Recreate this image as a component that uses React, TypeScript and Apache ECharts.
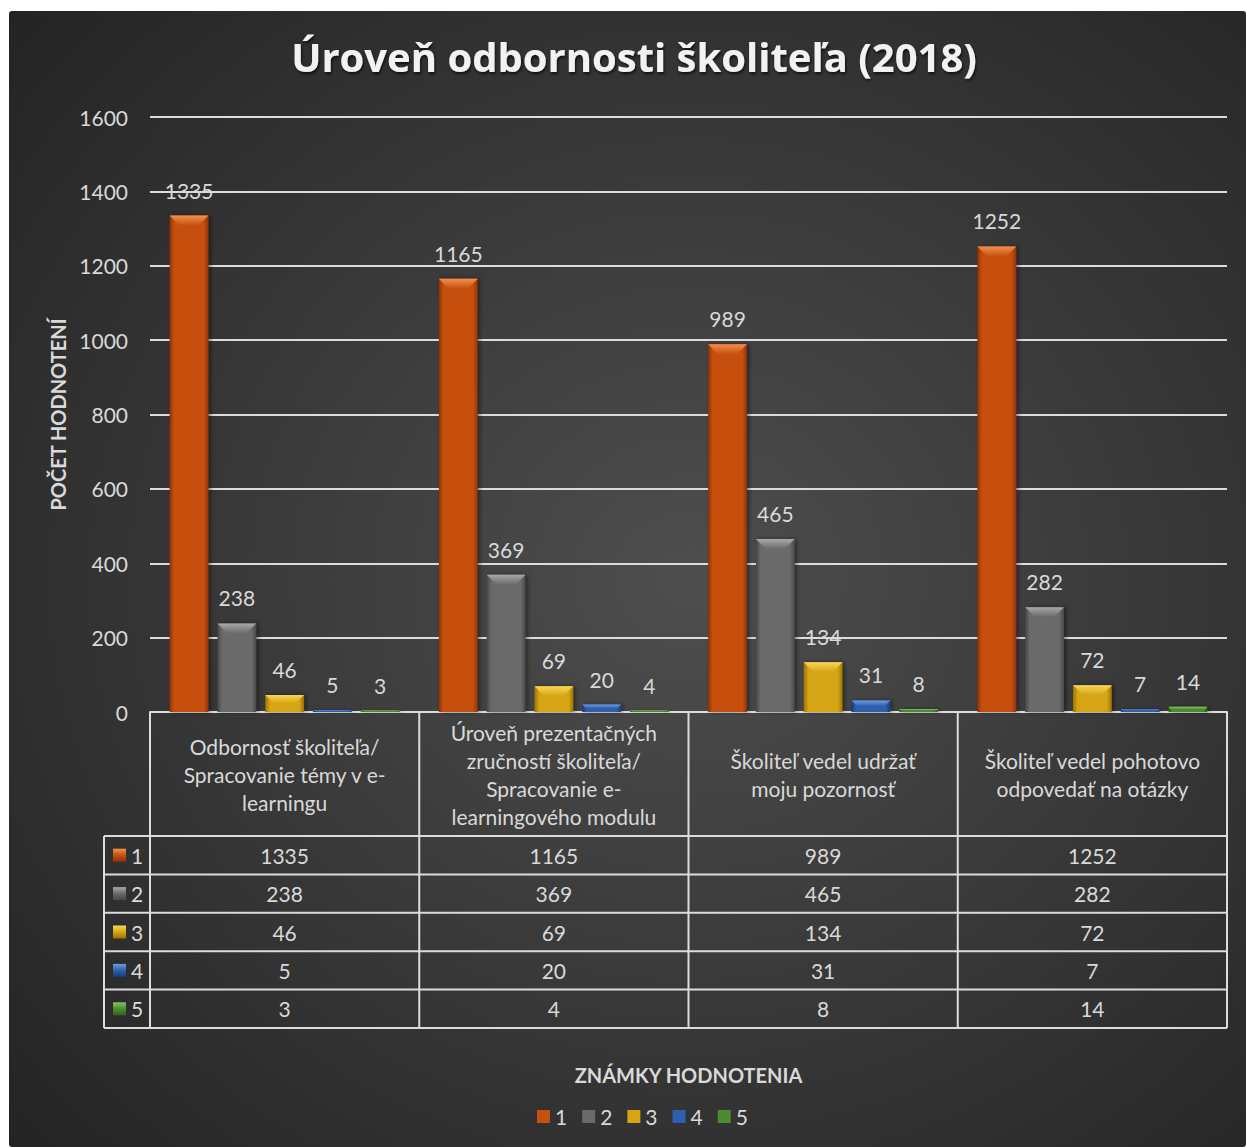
import React, { useEffect, useRef } from "react";
import * as echarts from "echarts";

const CATEGORIES = [
  "Odbornosť školiteľa/\nSpracovanie témy v e-\nlearningu",
  "Úroveň prezentačných\nzručností školiteľa/\nSpracovanie e-\nlearningového modulu",
  "Školiteľ vedel udržať\nmoju pozornosť",
  "Školiteľ vedel pohotovo\nodpovedať na otázky",
];
const GRADES = ["1", "2", "3", "4", "5"];
const GRADE_1 = [1335, 1165, 989, 1252];
const GRADE_2 = [238, 369, 465, 282];
const GRADE_3 = [46, 69, 134, 72];
const GRADE_4 = [5, 20, 31, 7];
const GRADE_5 = [3, 4, 8, 14];
const SERIES_VALUES = [GRADE_1, GRADE_2, GRADE_3, GRADE_4, GRADE_5];
const Y_MAX = 1600;
const Y_INTERVAL = 200;

const TITLE = "Úroveň odbornosti školiteľa (2018)";
const Y_NAME = "POČET HODNOTENÍ";
const X_NAME = "ZNÁMKY HODNOTENIA";

const PALETTE = [
  { base: "#c65010", light: "#f3904c", dark: "#8e3205" },
  { base: "#6a6a6a", light: "#a8a8a8", dark: "#474747" },
  { base: "#d5a512", light: "#f7d65a", dark: "#987206" },
  { base: "#2f5fae", light: "#6f9ae0", dark: "#1b3b78" },
  { base: "#4b8c31", light: "#88c466", dark: "#2d6217" },
];

const W = 1246;
const H = 1147;
const GRID_LEFT = 150;
const GRID_RIGHT_X = 1227;
const GRID_TOP = 117;
const GRID_BOTTOM_Y = 712;
const TABLE_LEFT = 104;
const HEADER_BOTTOM = 836;
const ROW_H = 38.4;
const CAT_GAP = 0.146;
const BAR_GAP = 0.23;
const FONT = "Lato, 'Noto Sans', sans-serif";
const TEXT = "#d9d9d9";

export default function App() {
  const ref = useRef<HTMLDivElement>(null);

  useEffect(() => {
    if (!ref.current) return;
    const chart = echarts.init(ref.current, null, { renderer: "svg" });
    const n = SERIES_VALUES.length;
    const colW = (GRID_RIGHT_X - GRID_LEFT) / CATEGORIES.length;

    const series = SERIES_VALUES.map((vals, si) => ({
      type: "custom",
      name: GRADES[si],
      coordinateSystem: "cartesian2d",
      encode: { x: 0, y: 1 },
      itemStyle: { color: PALETTE[si].base },
      data: vals.map((v, ci) => [ci, v]),
      renderItem: (params: any, api: any) => {
        const ci = api.value(0);
        const v = api.value(1);
        const base = api.coord([ci, 0]);
        const top = api.coord([ci, v]);
        const band = api.size([1, 0])[0];
        const usable = band * (1 - CAT_GAP);
        const bw = usable / (n + (n - 1) * BAR_GAP);
        const x0 = base[0] - usable / 2 + si * bw * (1 + BAR_GAP);
        const h = Math.max(base[1] - top[1], 1.5);
        const y0 = base[1] - h;
        const b = Math.min(10, h * 0.5);
        const c = PALETTE[si];
        return {
          type: "group",
          children: [
            {
              type: "rect",
              shape: { x: x0, y: y0, width: bw, height: h },
              style: {
                fill: new echarts.graphic.LinearGradient(0, 0, 1, 0, [
                  { offset: 0, color: c.dark },
                  { offset: 0.12, color: c.base },
                  { offset: 0.88, color: c.base },
                  { offset: 1, color: c.dark },
                ]),
                shadowColor: "rgba(0,0,0,0.45)",
                shadowBlur: 4,
                shadowOffsetX: 2,
              },
            },
            {
              type: "polygon",
              shape: {
                points: [
                  [x0, y0],
                  [x0 + bw, y0],
                  [x0 + bw - b, y0 + b],
                  [x0 + b, y0 + b],
                ],
              },
              style: {
                fill: new echarts.graphic.LinearGradient(0, 0, 0, 1, [
                  { offset: 0, color: c.light },
                  { offset: 1, color: c.base },
                ]),
              },
            },
            {
              type: "text",
              style: {
                x: x0 + bw / 2,
                y: y0 - 15,
                text: String(v),
                align: "center",
                verticalAlign: "bottom",
                fill: TEXT,
                fontSize: 21,
                fontFamily: FONT,
              },
            },
          ],
        };
      },
    }));

    const graphics: any[] = [
      {
        type: "rect",
        z: -10,
        silent: true,
        shape: { x: 9, y: 11, width: W - 9, height: H - 11, r: 3 },
        style: {
          fill: new echarts.graphic.RadialGradient(0.55, 0.5, 0.75, [
            { offset: 0, color: "#4e4e4e" },
            { offset: 1, color: "#232323" },
          ]),
        },
      },
    ];
    const lineStyle = { stroke: "#dcdcdc", lineWidth: 2 };
    const tableBottom = HEADER_BOTTOM + ROW_H * GRADES.length;
    for (let k = 0; k <= GRADES.length; k++) {
      const y = HEADER_BOTTOM + k * ROW_H;
      graphics.push({
        type: "line",
        shape: { x1: TABLE_LEFT, y1: y, x2: GRID_RIGHT_X, y2: y },
        style: lineStyle,
      });
    }
    graphics.push({
      type: "line",
      shape: { x1: TABLE_LEFT, y1: HEADER_BOTTOM, x2: TABLE_LEFT, y2: tableBottom },
      style: lineStyle,
    });
    for (let k = 0; k <= CATEGORIES.length; k++) {
      const x = GRID_LEFT + k * colW;
      graphics.push({
        type: "line",
        shape: { x1: x, y1: GRID_BOTTOM_Y, x2: x, y2: tableBottom },
        style: lineStyle,
      });
    }
    SERIES_VALUES.forEach((vals, si) => {
      const cy = HEADER_BOTTOM + (si + 0.5) * ROW_H;
      const c = PALETTE[si];
      graphics.push({
        type: "rect",
        shape: { x: 113, y: cy - 6.5, width: 13, height: 13 },
        style: {
          fill: new echarts.graphic.LinearGradient(0, 0, 0, 1, [
            { offset: 0, color: c.light },
            { offset: 0.5, color: c.base },
            { offset: 1, color: c.dark },
          ]),
        },
      });
      graphics.push({
        type: "text",
        style: {
          x: 131,
          y: cy,
          text: GRADES[si],
          align: "left",
          verticalAlign: "middle",
          fill: TEXT,
          fontSize: 21,
          fontFamily: FONT,
        },
      });
      vals.forEach((v, ci) => {
        graphics.push({
          type: "text",
          style: {
            x: GRID_LEFT + (ci + 0.5) * colW,
            y: cy,
            text: String(v),
            align: "center",
            verticalAlign: "middle",
            fill: TEXT,
            fontSize: 21,
            fontFamily: FONT,
          },
        });
      });
    });

    chart.setOption({
      animation: false,
      color: PALETTE.map((p) => p.base),
      title: {
        text: TITLE,
        left: 634,
        top: 36,
        padding: 0,
        textAlign: "center",
        textStyle: {
          color: "#f2f2f2",
          fontSize: 40,
          fontWeight: "bold",
          fontFamily: "'Open Sans', Lato, sans-serif",
          textShadowColor: "rgba(0,0,0,0.7)",
          textShadowBlur: 3,
          textShadowOffsetX: 1,
          textShadowOffsetY: 2,
        },
      },
      legend: {
        data: GRADES,
        left: 532,
        top: 1101,
        icon: "rect",
        itemWidth: 13,
        itemHeight: 13,
        itemGap: 15,
        textStyle: { color: TEXT, fontSize: 21, fontFamily: FONT },
      },
      grid: {
        left: GRID_LEFT,
        right: W - GRID_RIGHT_X,
        top: GRID_TOP,
        bottom: H - GRID_BOTTOM_Y,
        containLabel: false,
      },
      xAxis: {
        type: "category",
        data: CATEGORIES,
        name: X_NAME,
        nameLocation: "middle",
        nameGap: 353,
        nameTextStyle: { color: TEXT, fontSize: 20, fontWeight: "bold", fontFamily: FONT },
        axisLine: { show: true, lineStyle: { color: "#dcdcdc", width: 2 } },
        axisTick: { show: false },
        axisLabel: {
          interval: 0,
          color: TEXT,
          fontSize: 21,
          fontFamily: FONT,
          lineHeight: 28,
          margin: 62,
          verticalAlign: "middle",
          align: "center",
        },
      },
      yAxis: {
        type: "value",
        min: 0,
        max: Y_MAX,
        interval: Y_INTERVAL,
        name: Y_NAME,
        nameLocation: "middle",
        nameGap: 82,
        nameTextStyle: { color: TEXT, fontSize: 20, fontWeight: "bold", fontFamily: FONT },
        axisLine: { show: false },
        axisTick: { show: false },
        axisLabel: {
          color: TEXT,
          fontSize: 21,
          fontFamily: FONT,
          margin: 22,
          formatter: (v: number) => String(v),
        },
        splitLine: { lineStyle: { color: "#dcdcdc", width: 2 } },
      },
      graphic: graphics,
      series,
    });
    return () => chart.dispose();
  }, []);

  return (
    <div style={{ position: "absolute", left: 0, top: 0, width: W, height: H, background: "#fff" }}>
      <div ref={ref} style={{ width: W, height: H }} />
    </div>
  );
}
